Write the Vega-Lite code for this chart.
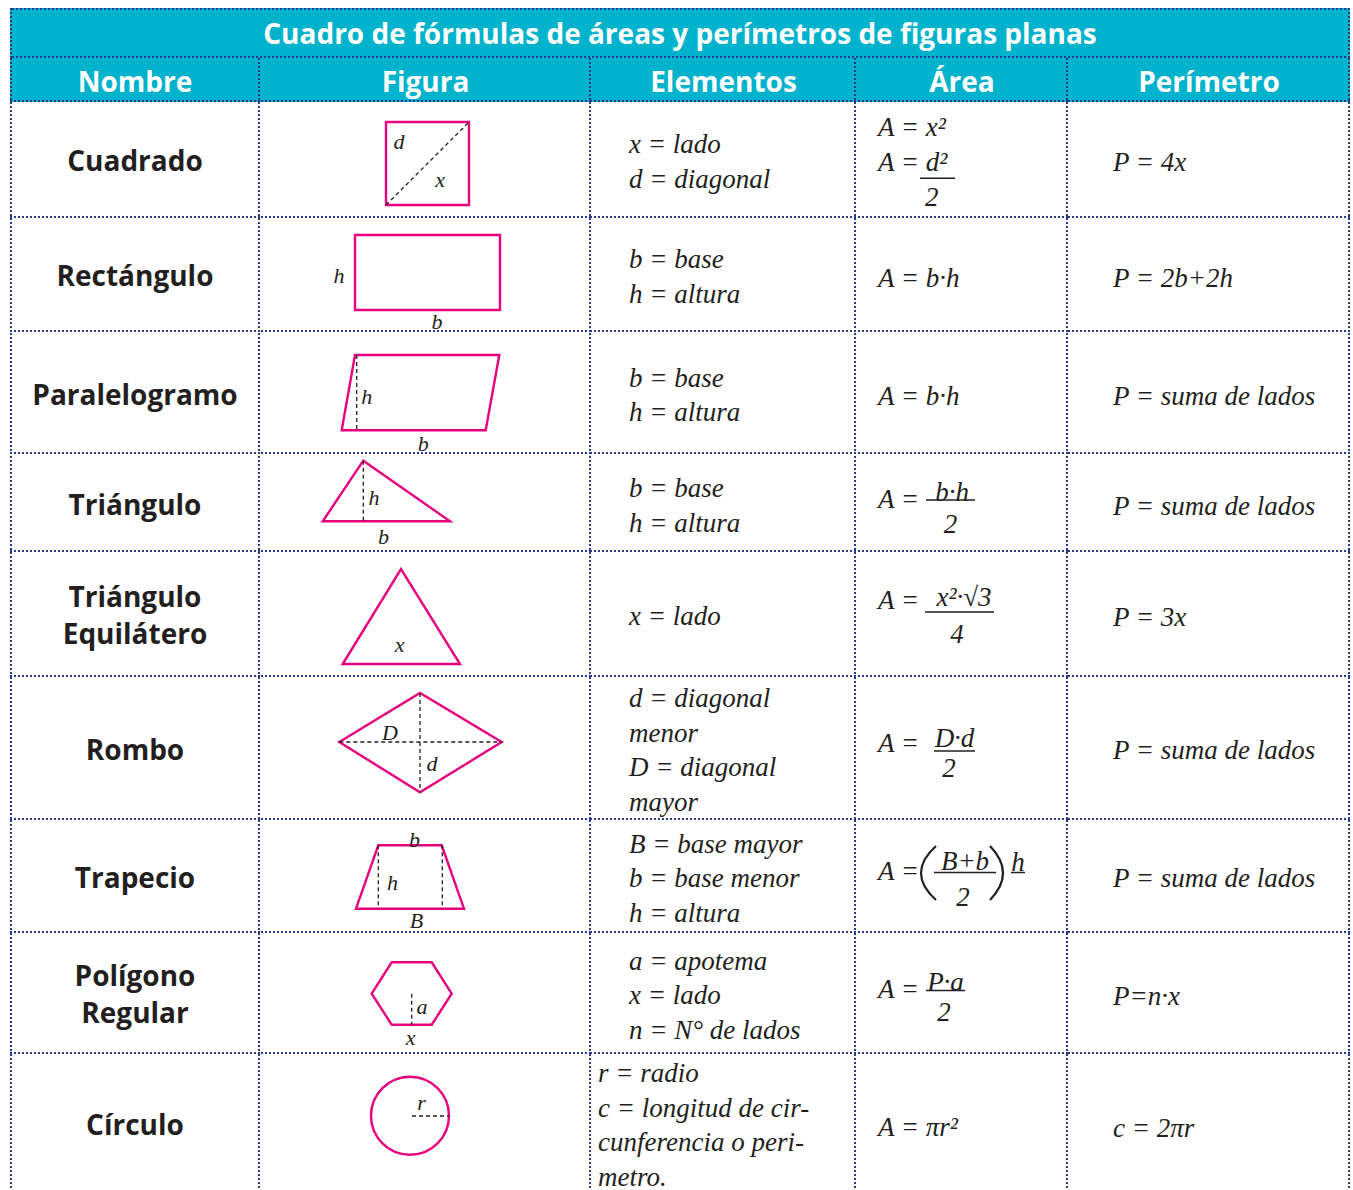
{
"$schema":"https://vega.github.io/schema/vega-lite/v6.json",
"padding":{"left":10,"top":8,"right":3,"bottom":0},
"background":"white",
"datasets":{
"titulo":[{"titulo":"Cuadro de fórmulas de áreas y perímetros de figuras planas"}],
"encabezado":[{"nombre":"Nombre","figura":"Figura","elementos":"Elementos","area":"Área","perimetro":"Perímetro"}],
"tabla":[
{"fila":1,"nombre":"Cuadrado","figura":"Cuadrado","elementos":"x = lado\nd = diagonal","area":"A = x²\nA = d²","num":"","den":"2","factor":"","perimetro":"P = 4x"},
{"fila":2,"nombre":"Rectángulo","figura":"Rectángulo","elementos":"b = base\nh = altura","area":"A = b·h","num":"","den":"","factor":"","perimetro":"P = 2b+2h"},
{"fila":3,"nombre":"Paralelogramo","figura":"Paralelogramo","elementos":"b = base\nh = altura","area":"A = b·h","num":"","den":"","factor":"","perimetro":"P = suma de lados"},
{"fila":4,"nombre":"Triángulo","figura":"Triángulo","elementos":"b = base\nh = altura","area":"A =","num":"b·h","den":"2","factor":"","perimetro":"P = suma de lados"},
{"fila":5,"nombre":"Triángulo\nEquilátero","figura":"Triángulo equilátero","elementos":"x = lado","area":"A =","num":"x²·√3","den":"4","factor":"","perimetro":"P = 3x"},
{"fila":6,"nombre":"Rombo","figura":"Rombo","elementos":"d = diagonal\nmenor\nD = diagonal\nmayor","area":"A =","num":"D·d","den":"2","factor":"","perimetro":"P = suma de lados"},
{"fila":7,"nombre":"Trapecio","figura":"Trapecio","elementos":"B = base mayor\nb = base menor\nh = altura","area":"A =","num":"B+b","den":"2","factor":"h","perimetro":"P = suma de lados"},
{"fila":8,"nombre":"Polígono\nRegular","figura":"Hexágono","elementos":"a = apotema\nx = lado\nn = N° de lados","area":"A =","num":"P·a","den":"2","factor":"","perimetro":"P=n·x"},
{"fila":9,"nombre":"Círculo","figura":"Círculo","elementos":"r = radio\nc = longitud de cir-\ncunferencia o peri-\nmetro.","area":"A = πr²","num":"","den":"","factor":"","perimetro":"c = 2πr"}
]},
"data":{"name":"tabla"},
"spacing":0,
"vconcat":[
{"data":{"name":"titulo"},"width":1340,"height":50,"view":{"fill":"#00b2cb"},"layer":[
 {"mark":{"type":"text","font":"Open Sans","fontWeight":"bold","fontStyle":"normal","fontSize":28,"color":"white","dy":2.6},"encoding":{"text":{"field":"titulo","type":"nominal"}}},
 {"mark":{"type":"rule","clip":true,"yOffset":1},"encoding":{"y":{"value":0}}},
 {"mark":{"type":"rule","clip":true,"xOffset":1},"encoding":{"x":{"value":0}}},
 {"mark":{"type":"rule","clip":true,"xOffset":-1},"encoding":{"x":{"value":"width"}}},
 {"mark":{"type":"rule","clip":true,"yOffset":-1},"encoding":{"y":{"value":"height"}}}
]},
{"data":{"name":"encabezado"},"spacing":0,"bounds":"flush","hconcat":[
 {"width":250,"height":44,"view":{"fill":"#00b2cb"},"layer":[
  {"mark":{"type":"text","font":"Open Sans","fontWeight":"bold","fontStyle":"normal","fontSize":28,"color":"white","dy":3.6},"encoding":{"text":{"field":"nombre","type":"nominal"}}},
  {"mark":{"type":"rule","clip":true,"xOffset":1},"encoding":{"x":{"value":0}}},
  {"mark":{"type":"rule","clip":true,"xOffset":-1},"encoding":{"x":{"value":"width"}}},
  {"mark":{"type":"rule","clip":true,"yOffset":-1},"encoding":{"y":{"value":"height"}}}]},
 {"width":331,"height":44,"view":{"fill":"#00b2cb"},"layer":[
  {"mark":{"type":"text","font":"Open Sans","fontWeight":"bold","fontStyle":"normal","fontSize":28,"color":"white","dy":3.6},"encoding":{"text":{"field":"figura","type":"nominal"}}},
  {"mark":{"type":"rule","clip":true,"xOffset":-1},"encoding":{"x":{"value":"width"}}},
  {"mark":{"type":"rule","clip":true,"yOffset":-1},"encoding":{"y":{"value":"height"}}}]},
 {"width":265,"height":44,"view":{"fill":"#00b2cb"},"layer":[
  {"mark":{"type":"text","font":"Open Sans","fontWeight":"bold","fontStyle":"normal","fontSize":28,"color":"white","dy":3.6},"encoding":{"text":{"field":"elementos","type":"nominal"}}},
  {"mark":{"type":"rule","clip":true,"xOffset":-1},"encoding":{"x":{"value":"width"}}},
  {"mark":{"type":"rule","clip":true,"yOffset":-1},"encoding":{"y":{"value":"height"}}}]},
 {"width":212,"height":44,"view":{"fill":"#00b2cb"},"layer":[
  {"mark":{"type":"text","font":"Open Sans","fontWeight":"bold","fontStyle":"normal","fontSize":28,"color":"white","dy":3.6},"encoding":{"text":{"field":"area","type":"nominal"}}},
  {"mark":{"type":"rule","clip":true,"xOffset":-1},"encoding":{"x":{"value":"width"}}},
  {"mark":{"type":"rule","clip":true,"yOffset":-1},"encoding":{"y":{"value":"height"}}}]},
 {"width":282,"height":44,"view":{"fill":"#00b2cb"},"layer":[
  {"mark":{"type":"text","font":"Open Sans","fontWeight":"bold","fontStyle":"normal","fontSize":28,"color":"white","dy":3.6},"encoding":{"text":{"field":"perimetro","type":"nominal"}}},
  {"mark":{"type":"rule","clip":true,"xOffset":-1},"encoding":{"x":{"value":"width"}}},
  {"mark":{"type":"rule","clip":true,"yOffset":-1},"encoding":{"y":{"value":"height"}}}]}
]},
{"transform":[{"filter":"datum.fila==1"}],"spacing":0,"bounds":"flush","hconcat":[
 {"width":250,"height":116,"layer":[
  {"mark":{"type":"text","font":"Open Sans","fontWeight":"bold","fontStyle":"normal","fontSize":28,"lineHeight":37,"dy":3},"encoding":{"text":{"field":"nombre","type":"nominal"}}},
  {"mark":{"type":"rule","clip":true,"xOffset":1},"encoding":{"x":{"value":0}}},{"mark":{"type":"rule","clip":true,"xOffset":-1},"encoding":{"x":{"value":"width"}}},{"mark":{"type":"rule","clip":true,"yOffset":-1},"encoding":{"y":{"value":"height"}}}]},
 {"width":331,"height":116,"layer":[
  {"mark":{"type":"point","shape":"M-39.5,-38H43.5V45H-39.5Z","stroke":"#e6007e","strokeWidth":2.4},"encoding":{}},
  {"mark":{"type":"point","shape":"M-39.5,45L43.5,-38","stroke":"#231f20","strokeWidth":1.3,"strokeDash":[4,3]},"encoding":{}},
  {"mark":{"type":"text","fontSize":22,"dx":-26.5,"dy":-17.9},"encoding":{"text":{"value":"d"}}},
  {"mark":{"type":"text","fontSize":22,"dx":14.5,"dy":19.6},"encoding":{"text":{"value":"x"}}},
  {"mark":{"type":"rule","clip":true,"xOffset":-1},"encoding":{"x":{"value":"width"}}},{"mark":{"type":"rule","clip":true,"yOffset":-1},"encoding":{"y":{"value":"height"}}}]},
 {"width":265,"height":116,"layer":[
  {"mark":{"type":"text","align":"left","dx":-94.5,"dy":-14.75},"encoding":{"text":{"field":"elementos","type":"nominal"}}},
  {"mark":{"type":"rule","clip":true,"xOffset":-1},"encoding":{"x":{"value":"width"}}},{"mark":{"type":"rule","clip":true,"yOffset":-1},"encoding":{"y":{"value":"height"}}}]},
 {"width":212,"height":116,"layer":[
  {"mark":{"type":"text","align":"left","dx":-84,"dy":-32.5,"lineHeight":35},"encoding":{"text":{"field":"area","type":"nominal"}}},
  {"mark":{"type":"point","shape":"M-42,18.3H-7","stroke":"#231f20","strokeWidth":1.5},"encoding":{}},
  {"mark":{"type":"text","dx":-30.3,"dy":38.3},"encoding":{"text":{"field":"den","type":"nominal"}}},
  {"mark":{"type":"rule","clip":true,"xOffset":-1},"encoding":{"x":{"value":"width"}}},{"mark":{"type":"rule","clip":true,"yOffset":-1},"encoding":{"y":{"value":"height"}}}]},
 {"width":282,"height":116,"layer":[
  {"mark":{"type":"text","align":"left","dx":-96,"dy":2.5},"encoding":{"text":{"field":"perimetro","type":"nominal"}}},
  {"mark":{"type":"rule","clip":true,"xOffset":-1},"encoding":{"x":{"value":"width"}}},{"mark":{"type":"rule","clip":true,"yOffset":-1},"encoding":{"y":{"value":"height"}}}]}
]},
{"transform":[{"filter":"datum.fila==2"}],"spacing":0,"bounds":"flush","hconcat":[
 {"width":250,"height":114,"layer":[
  {"mark":{"type":"text","font":"Open Sans","fontWeight":"bold","fontStyle":"normal","fontSize":28,"lineHeight":37,"dy":3},"encoding":{"text":{"field":"nombre","type":"nominal"}}},
  {"mark":{"type":"rule","clip":true,"xOffset":1},"encoding":{"x":{"value":0}}},{"mark":{"type":"rule","clip":true,"xOffset":-1},"encoding":{"x":{"value":"width"}}},{"mark":{"type":"rule","clip":true,"yOffset":-1},"encoding":{"y":{"value":"height"}}}]},
 {"width":331,"height":114,"layer":[
  {"mark":{"type":"point","shape":"M-70.5,-40H74.5V35H-70.5Z","stroke":"#e6007e","strokeWidth":2.4},"encoding":{}},
  {"mark":{"type":"text","fontSize":22,"dx":-86.5,"dy":0.6},"encoding":{"text":{"value":"h"}}},
  {"mark":{"type":"text","fontSize":22,"dx":11.5,"dy":46.5},"encoding":{"text":{"value":"b"}}},
  {"mark":{"type":"rule","clip":true,"xOffset":-1},"encoding":{"x":{"value":"width"}}},{"mark":{"type":"rule","clip":true,"yOffset":-1},"encoding":{"y":{"value":"height"}}}]},
 {"width":265,"height":114,"layer":[
  {"mark":{"type":"text","align":"left","dx":-94.5,"dy":-14.75},"encoding":{"text":{"field":"elementos","type":"nominal"}}},
  {"mark":{"type":"rule","clip":true,"xOffset":-1},"encoding":{"x":{"value":"width"}}},{"mark":{"type":"rule","clip":true,"yOffset":-1},"encoding":{"y":{"value":"height"}}}]},
 {"width":212,"height":114,"layer":[
  {"mark":{"type":"text","align":"left","dx":-84,"dy":4.3},"encoding":{"text":{"field":"area","type":"nominal"}}},
  {"mark":{"type":"rule","clip":true,"xOffset":-1},"encoding":{"x":{"value":"width"}}},{"mark":{"type":"rule","clip":true,"yOffset":-1},"encoding":{"y":{"value":"height"}}}]},
 {"width":282,"height":114,"layer":[
  {"mark":{"type":"text","align":"left","dx":-96,"dy":4},"encoding":{"text":{"field":"perimetro","type":"nominal"}}},
  {"mark":{"type":"rule","clip":true,"xOffset":-1},"encoding":{"x":{"value":"width"}}},{"mark":{"type":"rule","clip":true,"yOffset":-1},"encoding":{"y":{"value":"height"}}}]}
]},
{"transform":[{"filter":"datum.fila==3"}],"spacing":0,"bounds":"flush","hconcat":[
 {"width":250,"height":121,"layer":[
  {"mark":{"type":"text","font":"Open Sans","fontWeight":"bold","fontStyle":"normal","fontSize":28,"lineHeight":37,"dy":3},"encoding":{"text":{"field":"nombre","type":"nominal"}}},
  {"mark":{"type":"rule","clip":true,"xOffset":1},"encoding":{"x":{"value":0}}},{"mark":{"type":"rule","clip":true,"xOffset":-1},"encoding":{"x":{"value":"width"}}},{"mark":{"type":"rule","clip":true,"yOffset":-1},"encoding":{"y":{"value":"height"}}}]},
 {"width":331,"height":121,"layer":[
  {"mark":{"type":"point","shape":"M-70.5,-38.5L73.8,-38.5L60.2,36.8L-83.8,36.8Z","stroke":"#e6007e","strokeWidth":2.4},"encoding":{}},
  {"mark":{"type":"point","shape":"M-68.8,-38.5V36.8","stroke":"#231f20","strokeWidth":1.3,"strokeDash":[4,3]},"encoding":{}},
  {"mark":{"type":"text","fontSize":22,"dx":-58.8,"dy":3.9},"encoding":{"text":{"value":"h"}}},
  {"mark":{"type":"text","fontSize":22,"dx":-2.2,"dy":50.1},"encoding":{"text":{"value":"b"}}},
  {"mark":{"type":"rule","clip":true,"xOffset":-1},"encoding":{"x":{"value":"width"}}},{"mark":{"type":"rule","clip":true,"yOffset":-1},"encoding":{"y":{"value":"height"}}}]},
 {"width":265,"height":121,"layer":[
  {"mark":{"type":"text","align":"left","dx":-94.5,"dy":-14.75},"encoding":{"text":{"field":"elementos","type":"nominal"}}},
  {"mark":{"type":"rule","clip":true,"xOffset":-1},"encoding":{"x":{"value":"width"}}},{"mark":{"type":"rule","clip":true,"yOffset":-1},"encoding":{"y":{"value":"height"}}}]},
 {"width":212,"height":121,"layer":[
  {"mark":{"type":"text","align":"left","dx":-84,"dy":3.3},"encoding":{"text":{"field":"area","type":"nominal"}}},
  {"mark":{"type":"rule","clip":true,"xOffset":-1},"encoding":{"x":{"value":"width"}}},{"mark":{"type":"rule","clip":true,"yOffset":-1},"encoding":{"y":{"value":"height"}}}]},
 {"width":282,"height":121,"layer":[
  {"mark":{"type":"text","align":"left","dx":-96,"dy":3.5},"encoding":{"text":{"field":"perimetro","type":"nominal"}}},
  {"mark":{"type":"rule","clip":true,"xOffset":-1},"encoding":{"x":{"value":"width"}}},{"mark":{"type":"rule","clip":true,"yOffset":-1},"encoding":{"y":{"value":"height"}}}]}
]},
{"transform":[{"filter":"datum.fila==4"}],"spacing":0,"bounds":"flush","hconcat":[
 {"width":250,"height":96,"layer":[
  {"mark":{"type":"text","font":"Open Sans","fontWeight":"bold","fontStyle":"normal","fontSize":28,"lineHeight":37,"dy":3},"encoding":{"text":{"field":"nombre","type":"nominal"}}},
  {"mark":{"type":"rule","clip":true,"xOffset":1},"encoding":{"x":{"value":0}}},{"mark":{"type":"rule","clip":true,"xOffset":-1},"encoding":{"x":{"value":"width"}}},{"mark":{"type":"rule","clip":true,"yOffset":-1},"encoding":{"y":{"value":"height"}}}]},
 {"width":331,"height":96,"layer":[
  {"mark":{"type":"point","shape":"M-102.8,17.3L-62.2,-43.3L24.5,17.3Z","stroke":"#e6007e","strokeWidth":2.4},"encoding":{}},
  {"mark":{"type":"point","shape":"M-62.2,-43.3V17.3","stroke":"#231f20","strokeWidth":1.3,"strokeDash":[4,3]},"encoding":{}},
  {"mark":{"type":"text","fontSize":22,"dx":-51.5,"dy":-6.4},"encoding":{"text":{"value":"h"}}},
  {"mark":{"type":"text","fontSize":22,"dx":-42,"dy":32.6},"encoding":{"text":{"value":"b"}}},
  {"mark":{"type":"rule","clip":true,"xOffset":-1},"encoding":{"x":{"value":"width"}}},{"mark":{"type":"rule","clip":true,"yOffset":-1},"encoding":{"y":{"value":"height"}}}]},
 {"width":265,"height":96,"layer":[
  {"mark":{"type":"text","align":"left","dx":-94.5,"dy":-14.75},"encoding":{"text":{"field":"elementos","type":"nominal"}}},
  {"mark":{"type":"rule","clip":true,"xOffset":-1},"encoding":{"x":{"value":"width"}}},{"mark":{"type":"rule","clip":true,"yOffset":-1},"encoding":{"y":{"value":"height"}}}]},
 {"width":212,"height":96,"layer":[
  {"mark":{"type":"text","align":"left","dx":-84,"dy":-4.2},"encoding":{"text":{"field":"area","type":"nominal"}}},
  {"mark":{"type":"text","dx":-10,"dy":-11.2},"encoding":{"text":{"field":"num","type":"nominal"}}},
  {"mark":{"type":"point","shape":"M-36,-4H13","stroke":"#231f20","strokeWidth":1.5},"encoding":{}},
  {"mark":{"type":"text","dx":-11.5,"dy":20.8},"encoding":{"text":{"field":"den","type":"nominal"}}},
  {"mark":{"type":"rule","clip":true,"xOffset":-1},"encoding":{"x":{"value":"width"}}},{"mark":{"type":"rule","clip":true,"yOffset":-1},"encoding":{"y":{"value":"height"}}}]},
 {"width":282,"height":96,"layer":[
  {"mark":{"type":"text","align":"left","dx":-96,"dy":3},"encoding":{"text":{"field":"perimetro","type":"nominal"}}},
  {"mark":{"type":"rule","clip":true,"xOffset":-1},"encoding":{"x":{"value":"width"}}},{"mark":{"type":"rule","clip":true,"yOffset":-1},"encoding":{"y":{"value":"height"}}}]}
]},
{"transform":[{"filter":"datum.fila==5"}],"spacing":0,"bounds":"flush","hconcat":[
 {"width":250,"height":125,"layer":[
  {"mark":{"type":"text","font":"Open Sans","fontWeight":"bold","fontStyle":"normal","fontSize":28,"lineHeight":37,"dy":-15.5},"encoding":{"text":{"field":"nombre","type":"nominal"}}},
  {"mark":{"type":"rule","clip":true,"xOffset":1},"encoding":{"x":{"value":0}}},{"mark":{"type":"rule","clip":true,"xOffset":-1},"encoding":{"x":{"value":"width"}}},{"mark":{"type":"rule","clip":true,"yOffset":-1},"encoding":{"y":{"value":"height"}}}]},
 {"width":331,"height":125,"layer":[
  {"mark":{"type":"point","shape":"M-82.8,49.5L-24.5,-45.5L34.5,49.5Z","stroke":"#e6007e","strokeWidth":2.4},"encoding":{}},
  {"mark":{"type":"text","fontSize":22,"dx":-26,"dy":30.1},"encoding":{"text":{"value":"x"}}},
  {"mark":{"type":"rule","clip":true,"xOffset":-1},"encoding":{"x":{"value":"width"}}},{"mark":{"type":"rule","clip":true,"yOffset":-1},"encoding":{"y":{"value":"height"}}}]},
 {"width":265,"height":125,"layer":[
  {"mark":{"type":"text","align":"left","dx":-94.5,"dy":2.5},"encoding":{"text":{"field":"elementos","type":"nominal"}}},
  {"mark":{"type":"rule","clip":true,"xOffset":-1},"encoding":{"x":{"value":"width"}}},{"mark":{"type":"rule","clip":true,"yOffset":-1},"encoding":{"y":{"value":"height"}}}]},
 {"width":212,"height":125,"layer":[
  {"mark":{"type":"text","align":"left","dx":-84,"dy":-13.2},"encoding":{"text":{"field":"area","type":"nominal"}}},
  {"mark":{"type":"text","dx":2,"dy":-16.2},"encoding":{"text":{"field":"num","type":"nominal"}}},
  {"mark":{"type":"point","shape":"M-37,-2.5H32","stroke":"#231f20","strokeWidth":1.5},"encoding":{}},
  {"mark":{"type":"text","dx":-5,"dy":20.8},"encoding":{"text":{"field":"den","type":"nominal"}}},
  {"mark":{"type":"rule","clip":true,"xOffset":-1},"encoding":{"x":{"value":"width"}}},{"mark":{"type":"rule","clip":true,"yOffset":-1},"encoding":{"y":{"value":"height"}}}]},
 {"width":282,"height":125,"layer":[
  {"mark":{"type":"text","align":"left","dx":-96,"dy":3.5},"encoding":{"text":{"field":"perimetro","type":"nominal"}}},
  {"mark":{"type":"rule","clip":true,"xOffset":-1},"encoding":{"x":{"value":"width"}}},{"mark":{"type":"rule","clip":true,"yOffset":-1},"encoding":{"y":{"value":"height"}}}]}
]},
{"transform":[{"filter":"datum.fila==6"}],"spacing":0,"bounds":"flush","hconcat":[
 {"width":250,"height":143,"layer":[
  {"mark":{"type":"text","font":"Open Sans","fontWeight":"bold","fontStyle":"normal","fontSize":28,"lineHeight":37,"dy":3},"encoding":{"text":{"field":"nombre","type":"nominal"}}},
  {"mark":{"type":"rule","clip":true,"xOffset":1},"encoding":{"x":{"value":0}}},{"mark":{"type":"rule","clip":true,"xOffset":-1},"encoding":{"x":{"value":"width"}}},{"mark":{"type":"rule","clip":true,"yOffset":-1},"encoding":{"y":{"value":"height"}}}]},
 {"width":331,"height":143,"layer":[
  {"mark":{"type":"point","shape":"M-86.2,-6.5L-5.5,-55.5L76.2,-6.5L-5.5,43.8Z","stroke":"#e6007e","strokeWidth":2.4},"encoding":{}},
  {"mark":{"type":"point","shape":"M-86.2,-6.5H76.2M-5.5,-55.5V43.8","stroke":"#231f20","strokeWidth":1.3,"strokeDash":[4,3]},"encoding":{}},
  {"mark":{"type":"text","fontSize":22,"dx":-35.5,"dy":-15.9},"encoding":{"text":{"value":"D"}}},
  {"mark":{"type":"text","fontSize":22,"dx":6.5,"dy":15.6},"encoding":{"text":{"value":"d"}}},
  {"mark":{"type":"rule","clip":true,"xOffset":-1},"encoding":{"x":{"value":"width"}}},{"mark":{"type":"rule","clip":true,"yOffset":-1},"encoding":{"y":{"value":"height"}}}]},
 {"width":265,"height":143,"layer":[
  {"mark":{"type":"text","align":"left","dx":-94.5,"dy":-49.25},"encoding":{"text":{"field":"elementos","type":"nominal"}}},
  {"mark":{"type":"rule","clip":true,"xOffset":-1},"encoding":{"x":{"value":"width"}}},{"mark":{"type":"rule","clip":true,"yOffset":-1},"encoding":{"y":{"value":"height"}}}]},
 {"width":212,"height":143,"layer":[
  {"mark":{"type":"text","align":"left","dx":-84,"dy":-4.2},"encoding":{"text":{"field":"area","type":"nominal"}}},
  {"mark":{"type":"text","dx":-7.5,"dy":-9.7},"encoding":{"text":{"field":"num","type":"nominal"}}},
  {"mark":{"type":"point","shape":"M-28,2.5H13","stroke":"#231f20","strokeWidth":1.5},"encoding":{}},
  {"mark":{"type":"text","dx":-13,"dy":20.8},"encoding":{"text":{"field":"den","type":"nominal"}}},
  {"mark":{"type":"rule","clip":true,"xOffset":-1},"encoding":{"x":{"value":"width"}}},{"mark":{"type":"rule","clip":true,"yOffset":-1},"encoding":{"y":{"value":"height"}}}]},
 {"width":282,"height":143,"layer":[
  {"mark":{"type":"text","align":"left","dx":-96,"dy":2.5},"encoding":{"text":{"field":"perimetro","type":"nominal"}}},
  {"mark":{"type":"rule","clip":true,"xOffset":-1},"encoding":{"x":{"value":"width"}}},{"mark":{"type":"rule","clip":true,"yOffset":-1},"encoding":{"y":{"value":"height"}}}]}
]},
{"transform":[{"filter":"datum.fila==7"}],"spacing":0,"bounds":"flush","hconcat":[
 {"width":250,"height":113,"layer":[
  {"mark":{"type":"text","font":"Open Sans","fontWeight":"bold","fontStyle":"normal","fontSize":28,"lineHeight":37,"dy":3},"encoding":{"text":{"field":"nombre","type":"nominal"}}},
  {"mark":{"type":"rule","clip":true,"xOffset":1},"encoding":{"x":{"value":0}}},{"mark":{"type":"rule","clip":true,"xOffset":-1},"encoding":{"x":{"value":"width"}}},{"mark":{"type":"rule","clip":true,"yOffset":-1},"encoding":{"y":{"value":"height"}}}]},
 {"width":331,"height":113,"layer":[
  {"mark":{"type":"point","shape":"M-47.2,-31.2H16.2L38.5,32.2H-69.5Z","stroke":"#e6007e","strokeWidth":2.4},"encoding":{}},
  {"mark":{"type":"point","shape":"M-47.2,-31.2V32.2M16.8,-31.2V32.2","stroke":"#231f20","strokeWidth":1.3,"strokeDash":[4,3]},"encoding":{}},
  {"mark":{"type":"text","fontSize":22,"dx":-11,"dy":-36.9},"encoding":{"text":{"value":"b"}}},
  {"mark":{"type":"text","fontSize":22,"dx":-33,"dy":6.1},"encoding":{"text":{"value":"h"}}},
  {"mark":{"type":"text","fontSize":22,"dx":-9,"dy":44.6},"encoding":{"text":{"value":"B"}}},
  {"mark":{"type":"rule","clip":true,"xOffset":-1},"encoding":{"x":{"value":"width"}}},{"mark":{"type":"rule","clip":true,"yOffset":-1},"encoding":{"y":{"value":"height"}}}]},
 {"width":265,"height":113,"layer":[
  {"mark":{"type":"text","align":"left","dx":-94.5,"dy":-32},"encoding":{"text":{"field":"elementos","type":"nominal"}}},
  {"mark":{"type":"rule","clip":true,"xOffset":-1},"encoding":{"x":{"value":"width"}}},{"mark":{"type":"rule","clip":true,"yOffset":-1},"encoding":{"y":{"value":"height"}}}]},
 {"width":212,"height":113,"layer":[
  {"mark":{"type":"text","align":"left","dx":-84,"dy":-4.7},"encoding":{"text":{"field":"area","type":"nominal"}}},
  {"mark":{"type":"point","shape":"M-26,-30.5Q-56,-3.5 -26,23.5","stroke":"#231f20","strokeWidth":2.2},"encoding":{}},
  {"mark":{"type":"point","shape":"M28,-30.5Q54,-3.5 28,23.5","stroke":"#231f20","strokeWidth":2.2},"encoding":{}},
  {"mark":{"type":"text","dx":3,"dy":-14.7},"encoding":{"text":{"field":"num","type":"nominal"}}},
  {"mark":{"type":"point","shape":"M-28,-4H34","stroke":"#231f20","strokeWidth":1.5},"encoding":{}},
  {"mark":{"type":"text","dx":1,"dy":21.8},"encoding":{"text":{"field":"den","type":"nominal"}}},
  {"mark":{"type":"text","dx":56,"dy":-13.2},"encoding":{"text":{"field":"factor","type":"nominal"}}},
  {"mark":{"type":"point","shape":"M49,-4H63","stroke":"#231f20","strokeWidth":1.5},"encoding":{}},
  {"mark":{"type":"rule","clip":true,"xOffset":-1},"encoding":{"x":{"value":"width"}}},{"mark":{"type":"rule","clip":true,"yOffset":-1},"encoding":{"y":{"value":"height"}}}]},
 {"width":282,"height":113,"layer":[
  {"mark":{"type":"text","align":"left","dx":-96,"dy":2.5},"encoding":{"text":{"field":"perimetro","type":"nominal"}}},
  {"mark":{"type":"rule","clip":true,"xOffset":-1},"encoding":{"x":{"value":"width"}}},{"mark":{"type":"rule","clip":true,"yOffset":-1},"encoding":{"y":{"value":"height"}}}]}
]},
{"transform":[{"filter":"datum.fila==8"}],"spacing":0,"bounds":"flush","hconcat":[
 {"width":250,"height":121,"layer":[
  {"mark":{"type":"text","font":"Open Sans","fontWeight":"bold","fontStyle":"normal","fontSize":28,"lineHeight":37,"dy":-15.5},"encoding":{"text":{"field":"nombre","type":"nominal"}}},
  {"mark":{"type":"rule","clip":true,"xOffset":1},"encoding":{"x":{"value":0}}},{"mark":{"type":"rule","clip":true,"xOffset":-1},"encoding":{"x":{"value":"width"}}},{"mark":{"type":"rule","clip":true,"yOffset":-1},"encoding":{"y":{"value":"height"}}}]},
 {"width":331,"height":121,"layer":[
  {"mark":{"type":"point","shape":"M-53.8,0.2L-33.8,-31.2H6.2L26.2,0.2L6.2,31.2H-33.8Z","stroke":"#e6007e","strokeWidth":2.4},"encoding":{}},
  {"mark":{"type":"point","shape":"M-13.8,0.2V31.2","stroke":"#231f20","strokeWidth":1.3,"strokeDash":[4,3]},"encoding":{}},
  {"mark":{"type":"text","fontSize":22,"dx":-3.5,"dy":13.1},"encoding":{"text":{"value":"a"}}},
  {"mark":{"type":"text","fontSize":22,"dx":-15,"dy":44.1},"encoding":{"text":{"value":"x"}}},
  {"mark":{"type":"rule","clip":true,"xOffset":-1},"encoding":{"x":{"value":"width"}}},{"mark":{"type":"rule","clip":true,"yOffset":-1},"encoding":{"y":{"value":"height"}}}]},
 {"width":265,"height":121,"layer":[
  {"mark":{"type":"text","align":"left","dx":-94.5,"dy":-32},"encoding":{"text":{"field":"elementos","type":"nominal"}}},
  {"mark":{"type":"rule","clip":true,"xOffset":-1},"encoding":{"x":{"value":"width"}}},{"mark":{"type":"rule","clip":true,"yOffset":-1},"encoding":{"y":{"value":"height"}}}]},
 {"width":212,"height":121,"layer":[
  {"mark":{"type":"text","align":"left","dx":-84,"dy":-3.2},"encoding":{"text":{"field":"area","type":"nominal"}}},
  {"mark":{"type":"text","dx":-16.5,"dy":-10.2},"encoding":{"text":{"field":"num","type":"nominal"}}},
  {"mark":{"type":"point","shape":"M-36,-3H3","stroke":"#231f20","strokeWidth":1.5},"encoding":{}},
  {"mark":{"type":"text","dx":-18,"dy":19.3},"encoding":{"text":{"field":"den","type":"nominal"}}},
  {"mark":{"type":"rule","clip":true,"xOffset":-1},"encoding":{"x":{"value":"width"}}},{"mark":{"type":"rule","clip":true,"yOffset":-1},"encoding":{"y":{"value":"height"}}}]},
 {"width":282,"height":121,"layer":[
  {"mark":{"type":"text","align":"left","dx":-96,"dy":3.5},"encoding":{"text":{"field":"perimetro","type":"nominal"}}},
  {"mark":{"type":"rule","clip":true,"xOffset":-1},"encoding":{"x":{"value":"width"}}},{"mark":{"type":"rule","clip":true,"yOffset":-1},"encoding":{"y":{"value":"height"}}}]}
]},
{"transform":[{"filter":"datum.fila==9"}],"spacing":0,"bounds":"flush","hconcat":[
 {"width":250,"height":139,"layer":[
  {"mark":{"type":"text","font":"Open Sans","fontWeight":"bold","fontStyle":"normal","fontSize":28,"lineHeight":37,"dy":3},"encoding":{"text":{"field":"nombre","type":"nominal"}}},
  {"mark":{"type":"rule","clip":true,"xOffset":1},"encoding":{"x":{"value":0}}},{"mark":{"type":"rule","clip":true,"xOffset":-1},"encoding":{"x":{"value":"width"}}},{"mark":{"type":"rule","clip":true,"yOffset":-1},"encoding":{"y":{"value":"height"}}}]},
 {"width":331,"height":139,"layer":[
  {"mark":{"type":"point","shape":"M-54.5,-7.7A39,39 0 1,0 23.5,-7.7A39,39 0 1,0 -54.5,-7.7Z","stroke":"#e6007e","strokeWidth":2.4},"encoding":{}},
  {"mark":{"type":"point","shape":"M-13.5,-7.5H23.5","stroke":"#231f20","strokeWidth":1.3,"strokeDash":[4,3]},"encoding":{}},
  {"mark":{"type":"text","fontSize":22,"dx":-4,"dy":-20.9},"encoding":{"text":{"value":"r"}}},
  {"mark":{"type":"rule","clip":true,"xOffset":-1},"encoding":{"x":{"value":"width"}}},{"mark":{"type":"rule","clip":true,"yOffset":-1},"encoding":{"y":{"value":"height"}}}]},
 {"width":265,"height":139,"layer":[
  {"mark":{"type":"text","align":"left","dx":-125.5,"dy":-49.25},"encoding":{"text":{"field":"elementos","type":"nominal"}}},
  {"mark":{"type":"rule","clip":true,"xOffset":-1},"encoding":{"x":{"value":"width"}}},{"mark":{"type":"rule","clip":true,"yOffset":-1},"encoding":{"y":{"value":"height"}}}]},
 {"width":212,"height":139,"layer":[
  {"mark":{"type":"text","align":"left","dx":-84,"dy":4.3},"encoding":{"text":{"field":"area","type":"nominal"}}},
  {"mark":{"type":"rule","clip":true,"xOffset":-1},"encoding":{"x":{"value":"width"}}},{"mark":{"type":"rule","clip":true,"yOffset":-1},"encoding":{"y":{"value":"height"}}}]},
 {"width":282,"height":139,"layer":[
  {"mark":{"type":"text","align":"left","dx":-96,"dy":5},"encoding":{"text":{"field":"perimetro","type":"nominal"}}},
  {"mark":{"type":"rule","clip":true,"xOffset":-1},"encoding":{"x":{"value":"width"}}},{"mark":{"type":"rule","clip":true,"yOffset":-1},"encoding":{"y":{"value":"height"}}}]}
]}
],
"config":{
 "view":{"stroke":null},
 "concat":{"spacing":0},
 "text":{"font":"Liberation Serif","fontStyle":"italic","fontSize":27,"color":"#231f20","baseline":"middle","lineBreak":"\n","lineHeight":34.5},
 "rule":{"color":"#2a3990","strokeWidth":2,"strokeDash":[2,2]},
 "point":{"size":4,"filled":false,"opacity":1},
 "legend":{"disable":true}
}
}
